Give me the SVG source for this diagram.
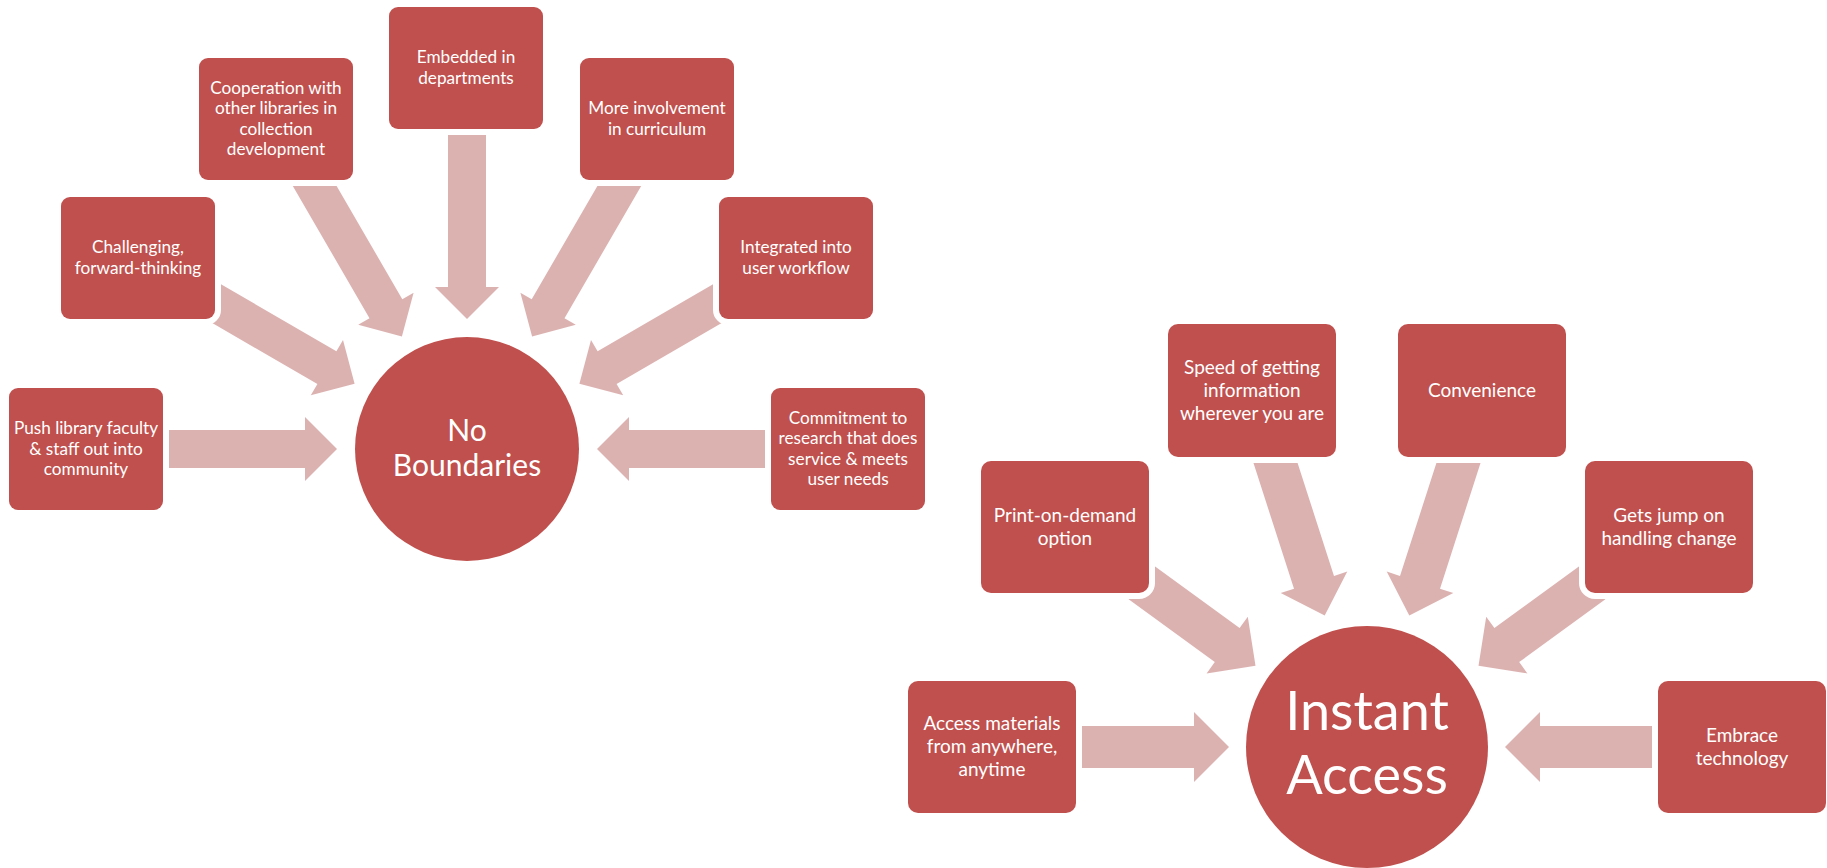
<svg xmlns="http://www.w3.org/2000/svg" width="1827" height="868" viewBox="0 0 1827 868">
  <style>
    .arrow { fill: #DCB2B1; stroke: none; }
    .box { fill: #C0504D; stroke: #FFFFFF; stroke-width: 12; paint-order: stroke; }
    .hub { fill: #C0504D; }
    .lbl { fill: #FFFFFF; font-family: "Lato", "Liberation Sans", sans-serif; text-anchor: middle; }
    .s1 { font-size: 17.2px; }
    .s2 { font-size: 19px; }
  </style>
  <rect width="1827" height="868" fill="#FFFFFF"/>

  <!-- block arrows pointing at the two hubs -->
  <g id="connectors">
    <!-- No Boundaries -->
    <polygon class="arrow" points="153,430 305,430 305,417 337,449 305,481 305,468 153,468"/>
    <polygon class="arrow" points="196.8,314.1 317.4,384 310.8,395.3 354.6,383.7 343,339.9 336.4,351.2 215.8,281.3"/>
    <polygon class="arrow" points="289.9,180.9 369.5,318.3 358.2,324.8 401.9,336.5 413.6,292.8 402.3,299.3 322.7,161.9"/>
    <polygon class="arrow" points="448,119 448,287 435,287 467,319 499,287 486,287 486,119"/>
    <polygon class="arrow" points="644.1,180.9 564.5,318.3 575.8,324.8 532.1,336.5 520.4,292.8 531.7,299.3 611.3,161.9"/>
    <polygon class="arrow" points="737.2,314.1 616.6,384 623.2,395.3 579.4,383.7 591,339.9 597.6,351.2 718.2,281.3"/>
    <polygon class="arrow" points="781,430 629,430 629,417 597,449 629,481 629,468 781,468"/>
    <!-- Instant Access -->
    <polygon class="arrow" points="1066,726 1194,726 1194,712 1229,747 1194,782 1194,768 1066,768"/>
    <polygon class="arrow" points="1128.6,599.3 1214.8,662.1 1206.6,673.4 1255.5,665.7 1247.8,616.8 1239.6,628.1 1153.4,565.3"/>
    <polygon class="arrow" points="1250.1,452.6 1294,588.7 1280.7,593 1324.7,615.6 1347.3,571.6 1334,575.9 1290.1,439.8"/>
    <polygon class="arrow" points="1483.9,452.6 1440,588.7 1453.3,593 1409.3,615.6 1386.7,571.6 1400,575.9 1443.9,439.8"/>
    <polygon class="arrow" points="1605.4,599.3 1519.2,662.1 1527.4,673.4 1478.5,665.7 1486.2,616.8 1494.4,628.1 1580.6,565.3"/>
    <polygon class="arrow" points="1668,726 1540,726 1540,712 1505,747 1540,782 1540,768 1668,768"/>
  </g>

  <!-- hub: No Boundaries -->
  <g id="hub-no-boundaries">
    <circle class="hub" cx="467" cy="449" r="112"/>
    <text class="lbl" font-size="30"><tspan x="467" y="441">No</tspan><tspan x="467" y="476">Boundaries</tspan></text>
  </g>

  <g id="node-push">
    <rect class="box" x="9" y="388" width="154" height="122" rx="9"/>
    <text class="lbl s1"><tspan x="86" y="434.1">Push library faculty</tspan><tspan x="86" y="454.6">&amp; staff out into</tspan><tspan x="86" y="475.1">community</tspan></text>
  </g>
  <g id="node-challenging">
    <rect class="box" x="61" y="197" width="154" height="122" rx="9"/>
    <text class="lbl s1"><tspan x="138" y="253.4">Challenging,</tspan><tspan x="138" y="273.9">forward-thinking</tspan></text>
  </g>
  <g id="node-cooperation">
    <rect class="box" x="199" y="58" width="154" height="122" rx="9"/>
    <text class="lbl s1"><tspan x="276" y="93.9">Cooperation with</tspan><tspan x="276" y="114.4">other libraries in</tspan><tspan x="276" y="134.9">collection</tspan><tspan x="276" y="155.4">development</tspan></text>
  </g>
  <g id="node-embedded">
    <rect class="box" x="389" y="7" width="154" height="122" rx="9"/>
    <text class="lbl s1"><tspan x="466" y="63.4">Embedded in</tspan><tspan x="466" y="83.9">departments</tspan></text>
  </g>
  <g id="node-curriculum">
    <rect class="box" x="580" y="58" width="154" height="122" rx="9"/>
    <text class="lbl s1"><tspan x="657" y="114.4">More involvement</tspan><tspan x="657" y="134.9">in curriculum</tspan></text>
  </g>
  <g id="node-workflow">
    <rect class="box" x="719" y="197" width="154" height="122" rx="9"/>
    <text class="lbl s1"><tspan x="796" y="253.4">Integrated into</tspan><tspan x="796" y="273.9">user workflow</tspan></text>
  </g>
  <g id="node-commitment">
    <rect class="box" x="771" y="388" width="154" height="122" rx="9"/>
    <text class="lbl s1"><tspan x="848" y="423.9">Commitment to</tspan><tspan x="848" y="444.4">research that does</tspan><tspan x="848" y="464.9">service &amp; meets</tspan><tspan x="848" y="485.4">user needs</tspan></text>
  </g>

  <!-- hub: Instant Access -->
  <g id="hub-instant-access">
    <circle class="hub" cx="1367" cy="747" r="121"/>
    <text class="lbl" font-size="54"><tspan x="1367" y="730">Instant</tspan><tspan x="1367" y="794">Access</tspan></text>
  </g>

  <g id="node-access">
    <rect class="box" x="908" y="681" width="168" height="132" rx="10"/>
    <text class="lbl s2"><tspan x="992" y="730.3">Access materials</tspan><tspan x="992" y="753.3">from anywhere,</tspan><tspan x="992" y="776.3">anytime</tspan></text>
  </g>
  <g id="node-print">
    <rect class="box" x="981" y="461" width="168" height="132" rx="10"/>
    <text class="lbl s2"><tspan x="1065" y="521.8">Print-on-demand</tspan><tspan x="1065" y="544.8">option</tspan></text>
  </g>
  <g id="node-speed">
    <rect class="box" x="1168" y="324" width="168" height="133" rx="10"/>
    <text class="lbl s2"><tspan x="1252" y="373.8">Speed of getting</tspan><tspan x="1252" y="396.8">information</tspan><tspan x="1252" y="419.8">wherever you are</tspan></text>
  </g>
  <g id="node-convenience">
    <rect class="box" x="1398" y="324" width="168" height="133" rx="10"/>
    <text class="lbl s2"><tspan x="1482" y="396.8">Convenience</tspan></text>
  </g>
  <g id="node-change">
    <rect class="box" x="1585" y="461" width="168" height="132" rx="10"/>
    <text class="lbl s2"><tspan x="1669" y="521.8">Gets jump on</tspan><tspan x="1669" y="544.8">handling change</tspan></text>
  </g>
  <g id="node-technology">
    <rect class="box" x="1658" y="681" width="168" height="132" rx="10"/>
    <text class="lbl s2"><tspan x="1742" y="741.8">Embrace</tspan><tspan x="1742" y="764.8">technology</tspan></text>
  </g>
</svg>
